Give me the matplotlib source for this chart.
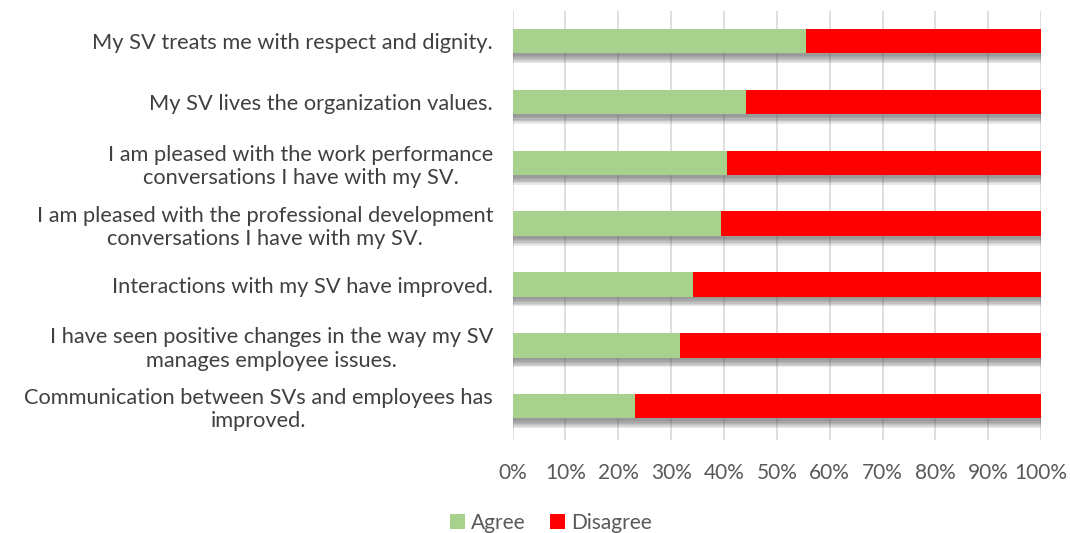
import matplotlib.pyplot as plt
import matplotlib.patheffects as pe
from matplotlib.ticker import PercentFormatter

plt.rcParams['font.family'] = ['Lato', 'DejaVu Sans']

statements = [
    'My SV treats me with respect and dignity.',
    'My SV lives the organization values.',
    'I am pleased with the work performance\nconversations I have with my SV.',
    'I am pleased with the professional development\nconversations I have with my SV.',
    'Interactions with my SV have improved.',
    'I have seen positive changes in the way my SV\nmanages employee issues.',
    'Communication between SVs and employees has\nimproved.',
]
agree = [55.6, 44.1, 40.5, 39.5, 34.2, 31.7, 23.2]
disagree = [100 - a for a in agree]

fig, ax = plt.subplots(figsize=(10.7, 5.33), dpi=100)
fig.subplots_adjust(left=0.479, right=0.973, top=0.98, bottom=0.175)

y = list(range(len(statements)))[::-1]
# soft drop shadow built from a few faint offset copies
shadow = [pe.SimplePatchShadow(offset=(0, -d), shadow_rgbFace='#505050', alpha=0.13)
          for d in (2, 3, 4, 5, 6, 7)] + [pe.Normal()]

b1 = ax.barh(y, agree, height=0.4, color='#a9d18e', label='Agree', zorder=3)
b2 = ax.barh(y, disagree, left=agree, height=0.4, color='#ff0000', label='Disagree', zorder=3)
for bars in (b1, b2):
    for p in bars:
        p.set_path_effects(shadow)

ax.set_xlim(0, 100)
ax.set_ylim(-0.55, 6.5)
ax.set_xticks(range(0, 101, 10))
ax.xaxis.set_major_formatter(PercentFormatter(decimals=0))
ax.set_yticks(y)
ax.set_yticklabels(statements, ha='right', multialignment='center')
ax.tick_params(axis='y', length=0, pad=14, labelsize=15.7, labelcolor='#404040')
ax.tick_params(axis='x', length=0, pad=17, labelsize=15, labelcolor='#595959')
ax.grid(axis='x', color='#d9d9d9', linewidth=1.2, zorder=0)
for s in ax.spines.values():
    s.set_visible(False)

leg = fig.legend(handles=[b1, b2], loc='lower center', bbox_to_anchor=(0.515, -0.035), ncol=2,
                 frameon=False, fontsize=15, handlelength=0.7, handleheight=0.7,
                 handletextpad=0.3, columnspacing=1.2)
for t in leg.get_texts():
    t.set_color('#595959')
for h in leg.legend_handles:
    h.set_path_effects([])

fig.savefig('out.png')
